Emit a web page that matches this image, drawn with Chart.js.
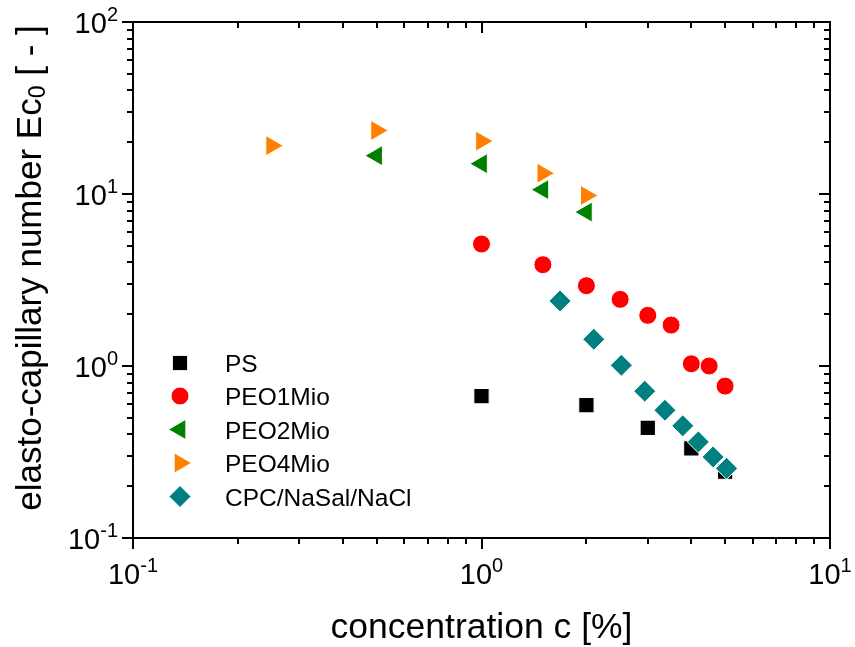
<!DOCTYPE html>
<html>
<head>
<meta charset="utf-8">
<script src="https://cdn.jsdelivr.net/npm/chart.js@4.4.1/dist/chart.umd.min.js"></script>
<style>
  html, body { margin: 0; padding: 0; background: #fff; }
</style>
</head>
<body>
<canvas id="chart" width="855" height="647"></canvas>
<script>
// data (concentration in %, Ec0 dimensionless)
const psConc = [1, 2, 3, 4, 5];
const psEc = [0.668, 0.592, 0.437, 0.332, 0.243];

const peo1Conc = [1, 1.5, 2, 2.5, 3, 3.5, 4, 4.5, 5];
const peo1Ec = [5.12, 3.88, 2.93, 2.44, 1.97, 1.73, 1.03, 1.0, 0.764];

const peo2Conc = [0.5, 1, 1.5, 2];
const peo2Ec = [16.7, 15.0, 10.6, 7.85];

const peo4Conc = [0.25, 0.5, 1, 1.5, 2];
const peo4Ec = [19.1, 23.4, 20.3, 13.2, 9.8];

const cpcConc = [1.68, 2.10, 2.52, 2.94, 3.36, 3.78, 4.19, 4.62, 5.05];
const cpcEc = [2.39, 1.43, 1.01, 0.714, 0.553, 0.449, 0.362, 0.296, 0.254];

const xTicks = [0.1, 1, 10];
const yTicks = [0.1, 1, 10, 100];

const FONT = '"Liberation Sans", Arial, sans-serif';

function pts(xs, ys) {
    return xs.map((x, i) => ({ x: x, y: ys[i] }));
}

function series(label, xs, ys, color, style, radius, rotation, order) {
    return {
        label: label,
        data: pts(xs, ys),
        backgroundColor: color,
        borderColor: '#ffffff',
        borderWidth: 1,
        pointStyle: style,
        pointRadius: radius,
        pointHoverRadius: radius,
        rotation: rotation,
        order: order
    };
}

const datasets = [
    series('PS', psConc, psEc, '#000000', 'rect', 10.8, 0, 5),
    series('PEO1Mio', peo1Conc, peo1Ec, '#ff0000', 'circle', 9, 0, 4),
    series('PEO2Mio', peo2Conc, peo2Ec, '#008000', 'triangle', 11.7, -90, 3),
    series('PEO4Mio', peo4Conc, peo4Ec, '#ff8000', 'triangle', 11.7, 90, 2),
    series('CPC/NaSal/NaCl', cpcConc, cpcEc, '#008080', 'rectRot', 11, 0, 1)
];

function powerLabel(ctx, v, x, y, align) {
    const exp = String(Math.round(Math.log10(v)));
    ctx.font = '29px ' + FONT;
    const wb = ctx.measureText('10').width;
    ctx.font = '20px ' + FONT;
    const we = ctx.measureText(exp).width;
    let x0 = align === 'right' ? x - wb - we : x - (wb + we) / 2;
    ctx.textAlign = 'left';
    ctx.textBaseline = 'alphabetic';
    ctx.font = '29px ' + FONT;
    ctx.fillText('10', x0, y);
    ctx.font = '20px ' + FONT;
    ctx.fillText(exp, x0 + wb, y - 12);
}

const frame = {
    id: 'frame',
    beforeDraw(chart) {
        const ctx = chart.ctx;
        ctx.save();
        ctx.fillStyle = '#fff';
        ctx.fillRect(0, 0, chart.width, chart.height);
        ctx.restore();
    },
    afterDraw(chart) {
        const { ctx, chartArea: a, scales: { x, y } } = chart;
        ctx.save();
        ctx.strokeStyle = '#000';
        ctx.fillStyle = '#000';
        ctx.lineWidth = 2;
        ctx.strokeRect(a.left, a.top, a.right - a.left, a.bottom - a.top);

        // tick marks: outward on bottom/left, inward on top/right
        ctx.beginPath();
        for (let d = 0; d < xTicks.length; d++) {
            const base = xTicks[d];
            for (let m = 1; m <= 9; m++) {
                if (d === xTicks.length - 1 && m > 1) break;
                const px = Math.round(x.getPixelForValue(base * m));
                const len = m === 1 ? 11 : 6;
                ctx.moveTo(px, a.bottom); ctx.lineTo(px, a.bottom + len);
                ctx.moveTo(px, a.top); ctx.lineTo(px, a.top + len);
            }
        }
        for (let d = 0; d < yTicks.length; d++) {
            const base = yTicks[d];
            for (let m = 1; m <= 9; m++) {
                if (d === yTicks.length - 1 && m > 1) break;
                const py = Math.round(y.getPixelForValue(base * m));
                const len = m === 1 ? 11 : 6;
                ctx.moveTo(a.left, py); ctx.lineTo(a.left - len, py);
                ctx.moveTo(a.right, py); ctx.lineTo(a.right - len, py);
            }
        }
        ctx.stroke();

        // tick labels
        xTicks.forEach(v => powerLabel(ctx, v, x.getPixelForValue(v), a.bottom + 46, 'center'));
        yTicks.forEach(v => powerLabel(ctx, v, 118, y.getPixelForValue(v) + 11, 'right'));

        // axis titles
        ctx.textBaseline = 'alphabetic';
        ctx.textAlign = 'center';
        ctx.font = '35.5px ' + FONT;
        ctx.fillText('concentration c [%]', (a.left + a.right) / 2, 638);

        ctx.save();
        ctx.translate(41, 268);
        ctx.rotate(-Math.PI / 2);
        const p1 = 'elasto-capillary number Ec', sub = '0', p2 = ' [ - ]';
        ctx.font = '35px ' + FONT;
        const w1 = ctx.measureText(p1).width, w3 = ctx.measureText(p2).width;
        ctx.font = '23px ' + FONT;
        const w2 = ctx.measureText(sub).width;
        let sx = -(w1 + w2 + w3) / 2;
        ctx.textAlign = 'left';
        ctx.font = '35px ' + FONT;
        ctx.fillText(p1, sx, 0);
        ctx.font = '23px ' + FONT;
        ctx.fillText(sub, sx + w1, 4);
        ctx.font = '35px ' + FONT;
        ctx.fillText(p2, sx + w1 + w2, 0);
        ctx.restore();

        // legend
        const rowY = [363, 396, 429.5, 463, 496.5];
        chart.data.datasets.forEach((ds, i) => {
            ctx.fillStyle = ds.backgroundColor;
            ctx.strokeStyle = ds.borderColor;
            ctx.lineWidth = ds.borderWidth;
            Chart.helpers.drawPoint(ctx, {
                pointStyle: ds.pointStyle,
                radius: ds.pointRadius,
                rotation: ds.rotation,
                borderWidth: ds.borderWidth
            }, 180, rowY[i]);
            ctx.fillStyle = '#000';
            ctx.font = '24.5px ' + FONT;
            ctx.textAlign = 'left';
            ctx.textBaseline = 'alphabetic';
            ctx.fillText(ds.label, 225, rowY[i] + 9);
        });
        ctx.restore();
    }
};

const config = {
    type: 'scatter',
    data: { datasets: datasets },
    plugins: [frame],
    options: {
        responsive: false,
        animation: false,
        events: [],
        layout: { padding: { left: 133, right: 25, top: 22, bottom: 109 } },
        plugins: {
            legend: { display: false },
            tooltip: { enabled: false }
        },
        scales: {
            x: { type: 'logarithmic', min: 0.1, max: 10, display: false },
            y: { type: 'logarithmic', min: 0.1, max: 100, display: false }
        }
    }
};

const chart = new Chart(document.getElementById('chart'), config);
</script>
</body>
</html>
